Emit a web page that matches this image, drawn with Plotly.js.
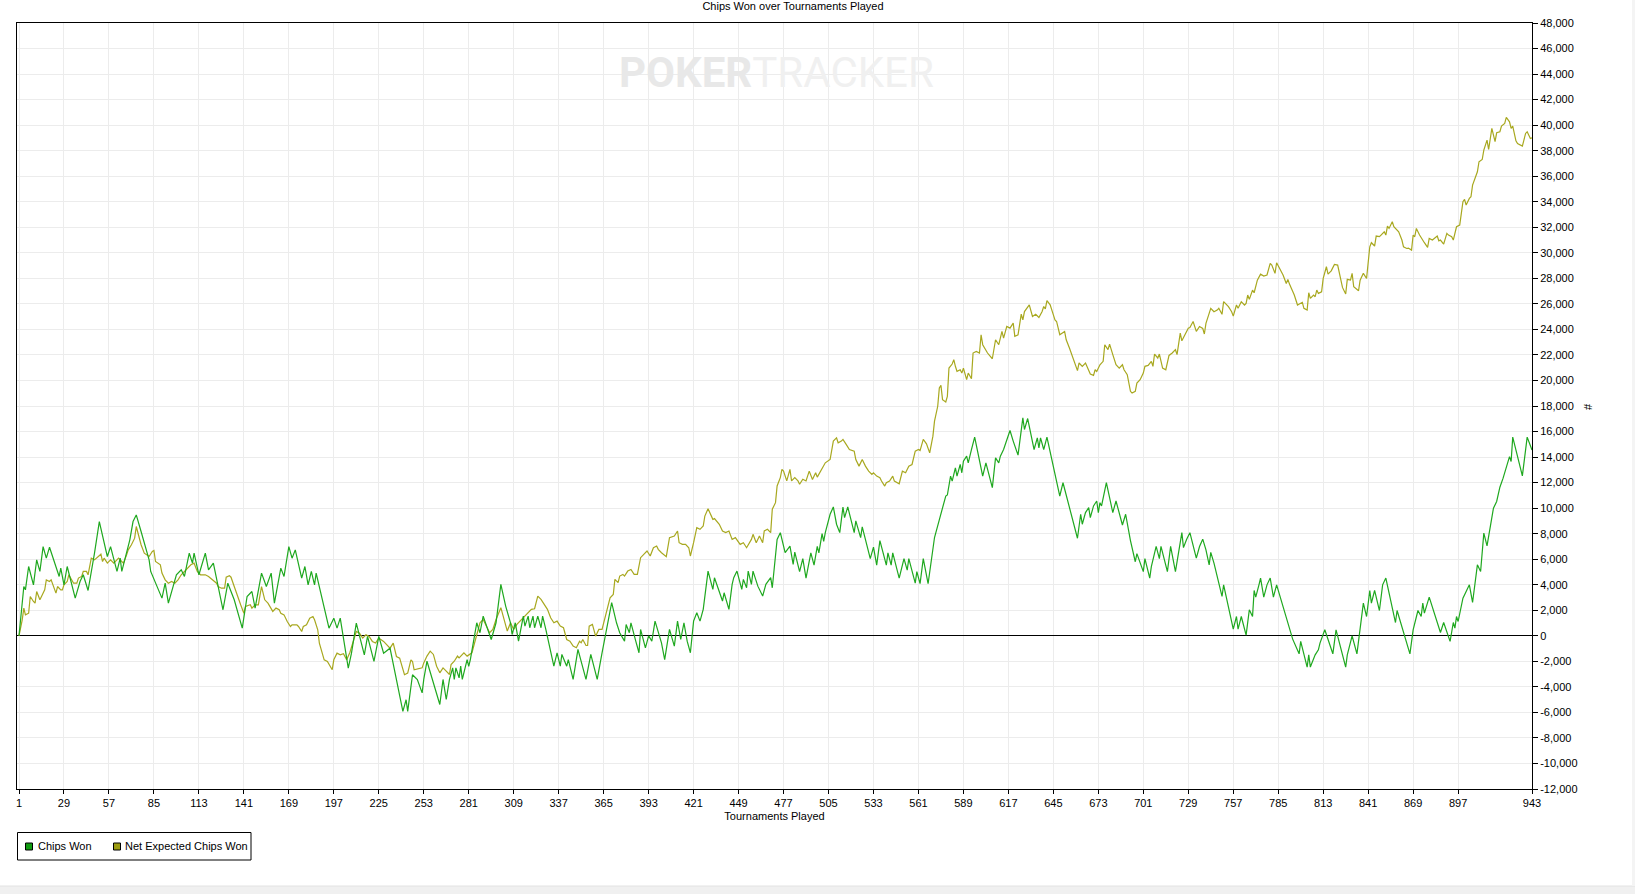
<!DOCTYPE html>
<html>
<head>
<meta charset="utf-8">
<script src="https://cdn.plot.ly/plotly-3.0.1.min.js"></script>
<style>html,body{margin:0;padding:0;background:#fff;}#chart{width:1635px;height:894px;}</style>
</head>
<body>
<div id="chart"></div>
<script>
// ---- data (tournament number, chips) ----
const chipsWonPoints = [[1,0],[4,3860],[5,3600],[7,5430],[10,3990],[12,5950],[14,5040],[16,6990],[18,6080],[20,6940],[26,4650],[27,5300],[29,3990],[31,5430],[36,2950],[39,4250],[41,4780],[44,3550],[48,6470],[51,8950],[56,6210],[58,6990],[62,5040],[64,6080],[65,5040],[68,6600],[70,7520],[72,8950],[74,9470],[77,8170],[80,6730],[82,5950],[83,5040],[90,2950],[92,4120],[94,2560],[99,4780],[102,5170],[104,4650],[107,6470],[109,5690],[110,6470],[113,4780],[117,6470],[119,5170],[122,5690],[128,2040],[131,4120],[135,2820],[140,600],[143,3080],[146,3470],[148,2170],[152,4910],[155,3860],[158,4910],[160,2560],[164,5300],[166,4650],[169,6990],[171,6080],[173,6730],[177,4520],[179,5430],[181,3990],[183,5040],[185,3990],[186,4910],[194,600],[197,1380],[199,600],[201,1380],[206,-2530],[208,-1360],[211,990],[213,-50],[216,-1490],[218,-50],[222,-2010],[225,-50],[228,-1360],[232,-970],[240,-5920],[242,-5010],[243,-5920],[246,-3050],[249,-3420],[252,-4470],[253,-3420],[255,-1990],[263,-5380],[265,-3420],[267,-4990],[269,-3420],[271,-2510],[272,-3420],[273,-2510],[275,-3290],[276,-2380],[277,-3420],[280,-1860],[281,-2400],[282,-1860],[286,1020],[288,240],[290,1540],[293,500],[295,-290],[298,1020],[301,4030],[304,2330],[307,1020],[308,100],[310,1020],[312,-420],[315,1540],[316,760],[318,1540],[319,630],[321,1540],[322,630],[324,1540],[326,630],[327,1540],[329,500],[334,-2380],[336,-1330],[338,-2380],[339,-1460],[342,-2380],[343,-1860],[346,-3420],[349,-1070],[354,-3420],[357,-1460],[361,-3420],[364,-1330],[366,-30],[370,2590],[373,1020],[375,240],[378,-420],[379,890],[381,240],[382,1020],[385,-420],[387,-1330],[388,500],[391,-940],[393,0],[395,-420],[397,1150],[401,-550],[403,-1860],[404,-1070],[406,500],[409,-810],[411,1150],[413,-290],[415,1020],[417,-420],[419,-1330],[421,1150],[423,1800],[425,1150],[427,2070],[430,5070],[433,3630],[434,4550],[439,2720],[440,3370],[443,2070],[445,4030],[446,4550],[448,5070],[451,3630],[452,4420],[454,3760],[455,5070],[457,4030],[458,5070],[461,3890],[464,3110],[466,4030],[469,4550],[470,3760],[473,7550],[475,8080],[478,6510],[481,7030],[483,5590],[484,6560],[487,5030],[489,6050],[491,4520],[494,6490],[496,5540],[498,7000],[499,6500],[501,8000],[502,7400],[503,8080],[506,9520],[508,10090],[510,8740],[512,8080],[514,10090],[515,9260],[517,10090],[521,8080],[522,9000],[525,7690],[526,8530],[529,7080],[531,6050],[533,6950],[535,5540],[537,7460],[541,5540],[542,6490],[544,5540],[545,6490],[549,4520],[552,6050],[554,5150],[555,6050],[559,4130],[560,5030],[562,4080],[564,6050],[567,4080],[571,7700],[575,9520],[578,10950],[579,11030],[581,12510],[582,12120],[584,13160],[585,12510],[587,13420],[588,12770],[589,13680],[591,14070],[592,13550],[594,14590],[596,15560],[601,12510],[603,13550],[607,11600],[609,13940],[611,13550],[612,14070],[614,14590],[616,15380],[618,16080],[620,15250],[623,14150],[626,17070],[627,16160],[629,17020],[633,14590],[635,15510],[636,14720],[637,15510],[639,14590],[641,15560],[649,10950],[651,11990],[660,7640],[662,9520],[663,8740],[665,9650],[667,10040],[668,9260],[670,10170],[672,10560],[673,9650],[674,10430],[675,10170],[678,11990],[682,9650],[684,10560],[688,8680],[690,9520],[693,7460],[696,5800],[697,6440],[701,5030],[702,6050],[705,4520],[706,5410],[709,7000],[711,6050],[712,7000],[716,5030],[718,7000],[721,5030],[725,8080],[726,6910],[728,7560],[730,8080],[734,6080],[736,6990],[738,7570],[740,6730],[742,5560],[743,6530],[745,5690],[750,3080],[751,3990],[757,520],[759,1510],[760,520],[762,1510],[765,50],[767,2040],[769,1510],[770,3550],[771,3030],[773,3990],[774,4520],[776,3030],[778,3990],[780,4520],[782,3030],[784,3990],[794,-260],[798,-1410],[799,-440],[803,-2450],[804,-1490],[805,-2450],[808,-1490],[810,-1100],[811,-570],[814,470],[819,-1410],[821,470],[827,-2450],[828,-1490],[831,0],[834,-1410],[838,2560],[840,1510],[842,3550],[843,2560],[845,3550],[848,1980],[850,3990],[852,4520],[858,1040],[859,1980],[867,-1410],[869,470],[872,1980],[874,1510],[875,2560],[876,1770],[879,3030],[886,260],[888,1040],[892,-440],[894,1040],[895,600],[896,1510],[897,1120],[900,2950],[902,3470],[904,3990],[906,2610],[909,5560],[911,5040],[913,8040],[915,7050],[919,10000],[921,10520],[923,11640],[925,12350],[929,14040],[930,13650],[931,15560],[937,12530],[940,15560],[943,14560]];

const netExpectedPoints = [[1,0],[2,600],[3,1250],[4,2170],[5,1640],[7,1770],[8,3080],[10,2690],[11,2560],[12,3470],[14,2820],[15,3080],[17,3600],[18,4380],[20,4250],[21,4380],[23,3600],[24,3340],[25,3860],[27,3600],[28,3600],[29,3990],[31,4250],[32,4780],[35,4120],[37,4120],[38,4520],[40,4650],[41,5040],[43,5040],[44,4780],[46,6080],[48,5950],[50,6210],[52,6390],[53,5820],[54,6080],[56,5690],[58,5950],[60,5690],[63,6080],[64,5950],[66,5690],[68,6340],[69,6730],[71,7130],[73,7650],[74,8560],[75,8040],[77,7130],[79,6470],[81,6340],[82,6210],[84,6600],[85,6680],[86,5820],[89,5560],[90,4910],[92,4380],[94,4120],[96,4250],[98,4120],[100,4380],[102,4780],[104,5040],[106,5300],[108,5560],[110,5690],[112,5040],[114,4780],[117,4780],[119,4650],[121,4440],[123,4180],[124,4120],[125,3860],[127,3730],[129,3730],[130,4590],[132,4700],[133,4590],[135,3860],[137,3080],[139,2430],[141,1770],[142,2300],[145,2430],[146,2170],[148,2430],[150,2430],[152,3860],[154,2820],[156,2560],[157,2300],[159,1910],[161,2170],[163,2040],[164,1770],[166,1640],[168,1120],[170,730],[171,860],[174,860],[175,730],[177,340],[178,730],[180,860],[182,1380],[184,1510],[185,1250],[187,470],[188,-570],[190,-1360],[191,-1880],[193,-2010],[196,-2660],[197,-1880],[199,-1360],[201,-1490],[203,-1410],[205,-1880],[207,-1310],[211,340],[213,210],[215,-180],[217,80],[219,-50],[221,-440],[223,-570],[225,-180],[228,-440],[230,-700],[232,-970],[234,-570],[236,-1620],[238,-1750],[241,-3050],[243,-2920],[245,-1880],[246,-2010],[247,-2660],[252,-2510],[253,-2120],[255,-1590],[257,-1200],[259,-1460],[261,-2380],[263,-2900],[265,-2510],[267,-2770],[269,-3030],[270,-2250],[272,-1990],[274,-1590],[275,-1730],[278,-1330],[280,-1590],[283,-1330],[286,100],[288,1020],[290,1280],[292,760],[294,240],[296,500],[298,1280],[301,2200],[303,1280],[305,370],[307,1020],[309,500],[311,890],[316,1540],[318,1800],[320,2070],[322,2120],[324,3110],[326,2850],[328,2460],[330,2070],[332,1410],[334,1020],[336,1150],[338,760],[340,630],[342,-290],[344,-420],[346,-810],[348,-940],[350,-420],[351,-550],[352,-290],[354,-760],[355,-760],[356,760],[358,890],[360,-30],[362,500],[364,500],[366,1410],[369,2980],[371,3240],[372,4420],[374,4160],[375,4680],[377,4810],[378,4680],[380,5070],[382,5200],[384,4810],[386,4810],[388,6120],[390,6380],[392,6640],[394,6250],[396,6900],[398,7030],[399,6770],[401,6510],[404,6200],[406,7690],[409,7820],[411,8210],[412,7290],[414,7160],[416,7160],[418,6900],[419,6250],[421,7290],[423,8470],[425,8340],[427,8600],[428,9380],[430,9960],[433,9120],[434,9180],[437,8730],[439,8210],[441,8080],[443,8210],[445,7550],[447,7690],[450,7160],[452,7290],[454,6900],[457,7550],[458,7950],[460,7290],[462,7820],[464,7290],[465,8210],[467,8340],[469,8080],[470,9910],[472,10430],[473,11740],[475,12390],[476,13040],[477,12910],[479,12130],[481,13040],[482,12130],[484,12390],[486,12130],[487,11870],[489,12260],[491,12130],[493,12900],[495,12250],[497,12770],[498,12430],[500,12900],[502,13290],[503,13550],[506,13810],[508,15250],[510,15510],[511,15120],[513,15250],[514,15380],[516,14990],[518,14590],[521,14460],[522,13810],[524,13290],[526,13810],[528,13290],[530,12900],[532,12640],[533,12770],[535,12510],[537,12380],[538,12120],[540,11730],[541,11990],[543,12120],[545,12510],[546,12120],[549,11910],[550,12380],[551,12900],[553,12770],[555,13290],[557,13420],[559,14460],[561,14590],[562,14510],[564,15380],[566,15040],[568,14330],[570,15640],[571,16810],[573,17980],[574,19410],[575,19620],[576,18500],[578,18320],[579,18760],[580,20970],[582,21290],[583,21630],[584,21110],[585,20710],[587,20840],[588,20580],[589,20970],[591,20060],[592,20580],[594,20140],[595,22150],[597,22280],[599,22150],[600,23580],[601,22800],[604,22150],[607,21700],[609,23190],[611,22800],[613,23840],[614,23320],[616,24230],[618,24100],[620,24490],[621,23450],[623,23580],[625,25190],[626,24750],[627,25400],[630,25920],[632,25010],[634,25190],[636,24930],[638,25400],[639,25790],[640,25610],[641,26260],[643,25920],[645,25140],[646,24750],[647,24620],[649,23580],[652,23840],[653,23190],[655,22540],[657,21760],[658,21370],[660,20770],[661,21370],[663,21110],[665,21370],[666,21110],[668,20510],[670,20400],[671,20840],[672,20710],[674,21230],[676,21500],[677,22800],[679,22410],[680,22850],[682,22020],[684,21230],[686,20970],[688,21230],[689,20840],[691,20450],[693,19150],[694,19020],[696,19150],[697,19800],[699,20060],[701,20580],[702,21110],[704,21180],[706,21500],[707,21110],[708,22070],[710,21760],[711,22070],[713,20970],[715,20840],[717,21960],[719,22150],[721,22410],[722,22020],[724,23710],[725,23110],[728,23840],[729,24100],[730,24150],[732,24620],[734,23840],[736,24230],[738,24080],[739,23640],[740,24470],[742,25250],[743,25650],[745,25380],[747,25510],[748,25650],[750,25180],[751,26170],[752,26040],[754,25780],[756,25380],[757,25040],[759,25910],[760,25650],[762,26170],[764,25910],[765,26040],[766,26690],[767,26350],[769,27080],[770,26870],[772,27860],[774,28330],[776,28180],[778,28260],[780,29170],[781,29040],[783,28390],[784,29220],[786,28780],[788,28260],[790,27600],[791,27920],[792,27550],[794,26950],[795,26690],[797,25910],[800,26120],[801,25650],[803,25510],[804,26870],[805,26430],[807,26690],[808,26560],[809,27080],[810,26820],[812,26950],[813,28000],[815,28910],[816,28330],[818,28590],[820,29090],[822,29040],[824,27860],[825,27290],[827,26770],[828,27920],[830,27860],[831,28390],[832,27340],[835,27030],[836,27860],[838,28390],[840,27990],[842,30470],[843,30790],[845,30530],[846,31310],[848,31260],[849,31390],[851,31650],[852,31390],[853,32090],[854,31910],[856,32430],[857,32040],[859,31730],[860,31650],[862,31000],[863,30470],[865,30340],[866,30370],[868,30210],[869,31390],[870,31260],[871,31910],[873,31390],[875,30940],[876,30790],[878,30420],[879,31130],[881,31000],[882,31130],[884,31310],[885,30940],[886,31000],[888,30680],[890,31520],[891,31390],[893,31260],[894,31000],[895,31650],[896,32040],[898,32170],[900,34000],[901,34180],[902,33740],[904,34260],[905,34390],[906,35300],[908,35950],[909,36350],[910,37130],[912,37310],[913,38040],[915,38830],[916,38090],[917,39090],[918,39740],[920,38700],[921,39400],[923,39480],[924,39920],[926,40130],[927,40600],[929,40260],[930,39740],[931,39920],[933,38770],[934,38560],[936,38430],[937,38360],[939,39350],[940,39480],[942,38960],[943,39000]];

const seriesNames = ["Chips Won", "Net Expected Chips Won"];
const xTickValues = [1,29,57,85,113,141,169,197,225,253,281,309,337,365,393,421,449,477,505,533,561,589,617,645,673,701,729,757,785,813,841,869,897,943];
const yTickValues = [-12000,-10000,-8000,-6000,-4000,-2000,0,2000,4000,6000,8000,10000,12000,14000,16000,18000,20000,22000,24000,26000,28000,30000,32000,34000,36000,38000,40000,42000,44000,46000,48000];
const yTickLabels = yTickValues.map(v => (v < 0 ? "-" : "") + Math.abs(v).toLocaleString("en-US"));

// ---- layout geometry (pixels) ----
const W = 1635, H = 894, L = 17, R = 1532, T = 23, B = 789;
const px = x => (x - L) / (R - L);
const py = y => (B - y) / (B - T);
const font = "Liberation Sans, Arial, sans-serif";
const green = "#1fa81f", olive = "#a8a81f";

const traces = [
  {x: netExpectedPoints.map(p => p[0]), y: netExpectedPoints.map(p => p[1]), name: seriesNames[1],
   type: "scatter", mode: "lines", line: {color: olive, width: 1.2}, showlegend: false, hoverinfo: "x+y"},
  {x: chipsWonPoints.map(p => p[0]), y: chipsWonPoints.map(p => p[1]), name: seriesNames[0],
   type: "scatter", mode: "lines", line: {color: green, width: 1.2}, showlegend: false, hoverinfo: "x+y"}
];

const layout = {
  width: W, height: H,
  margin: {l: L, r: W - R, t: T, b: H - B, pad: 0},
  paper_bgcolor: "#ffffff", plot_bgcolor: "#ffffff",
  font: {family: font, size: 11, color: "#000"},
  title: {text: "Chips Won over Tournaments Played", font: {family: font, size: 11, color: "#000"},
          xref: "paper", x: px(793), xanchor: "center", yref: "container", y: 1 - 6 / H, yanchor: "middle"},
  showlegend: false,
  xaxis: {range: [-0.25, 943], tickmode: "array", tickvals: xTickValues, showgrid: true, gridcolor: "#ececec", gridwidth: 1,
          showline: true, linecolor: "#000", linewidth: 1, mirror: true, zeroline: false,
          ticks: "outside", ticklen: 4, tickcolor: "#000", tickfont: {family: font, size: 11, color: "#000"},
          title: {text: "Tournaments Played", font: {family: font, size: 11, color: "#000"}, standoff: 4},
          automargin: false, fixedrange: true},
  yaxis: {range: [-12000, 48000], side: "right", tickmode: "array", tickvals: yTickValues, ticktext: yTickLabels,
          showgrid: true, gridcolor: "#ececec", gridwidth: 1,
          showline: true, linecolor: "#000", linewidth: 1, mirror: true,
          zeroline: true, zerolinecolor: "#000", zerolinewidth: 1,
          ticks: "outside", ticklen: 5, tickcolor: "#000", tickfont: {family: font, size: 11, color: "#000"},
          automargin: false, fixedrange: true},
  annotations: [
    {text: '<span style="color:#e8e8e8"><b>POKER</b></span><span style="color:#f0f0f0">TRACKER</span>',
     xref: "paper", yref: "paper", x: px(776), y: py(72), xanchor: "center", yanchor: "middle", showarrow: false,
     font: {family: "Liberation Sans Narrow, Roboto, Arial, sans-serif", size: 42, color: "#ececec"}},
    {text: "#", xref: "paper", yref: "paper", x: px(1588), y: py(407), xanchor: "center", yanchor: "middle",
     showarrow: false, textangle: -90, font: {family: font, size: 11, color: "#000"}},
    {text: seriesNames[0], xref: "paper", yref: "paper", x: px(36), y: py(846.5), xanchor: "left", yanchor: "middle",
     showarrow: false, font: {family: font, size: 11, color: "#000"}},
    {text: seriesNames[1], xref: "paper", yref: "paper", x: px(123), y: py(846.5), xanchor: "left", yanchor: "middle",
     showarrow: false, font: {family: font, size: 11, color: "#000"}}
  ],
  shapes: [
    {type: "rect", xref: "paper", yref: "paper", x0: px(17.5), x1: px(251), y0: py(832.5), y1: py(860), line: {color: "#000", width: 1}, fillcolor: "rgba(0,0,0,0)", layer: "above"},
    {type: "rect", xref: "paper", yref: "paper", x0: px(25.5), x1: px(32.5), y0: py(843), y1: py(850), line: {color: "#000", width: 1}, fillcolor: "#109c10"},
    {type: "rect", xref: "paper", yref: "paper", x0: px(113.5), x1: px(120.5), y0: py(843), y1: py(850), line: {color: "#000", width: 1}, fillcolor: "#9c9c10"},
    {type: "rect", xref: "paper", yref: "paper", x0: px(0), x1: px(W), y0: py(886), y1: py(H + 2), line: {width: 0}, fillcolor: "#f0f0f0"},
    {type: "line", xref: "paper", yref: "paper", x0: px(0), x1: px(W), y0: py(886), y1: py(886), line: {color: "#e2e2e2", width: 1}},
    {type: "rect", xref: "paper", yref: "paper", x0: px(1632), x1: px(W + 2), y0: py(0), y1: py(886), line: {width: 0}, fillcolor: "#f4f4f4"}
  ]
};

Plotly.newPlot("chart", traces, layout, {staticPlot: true, displayModeBar: false});
</script>
</body>
</html>
